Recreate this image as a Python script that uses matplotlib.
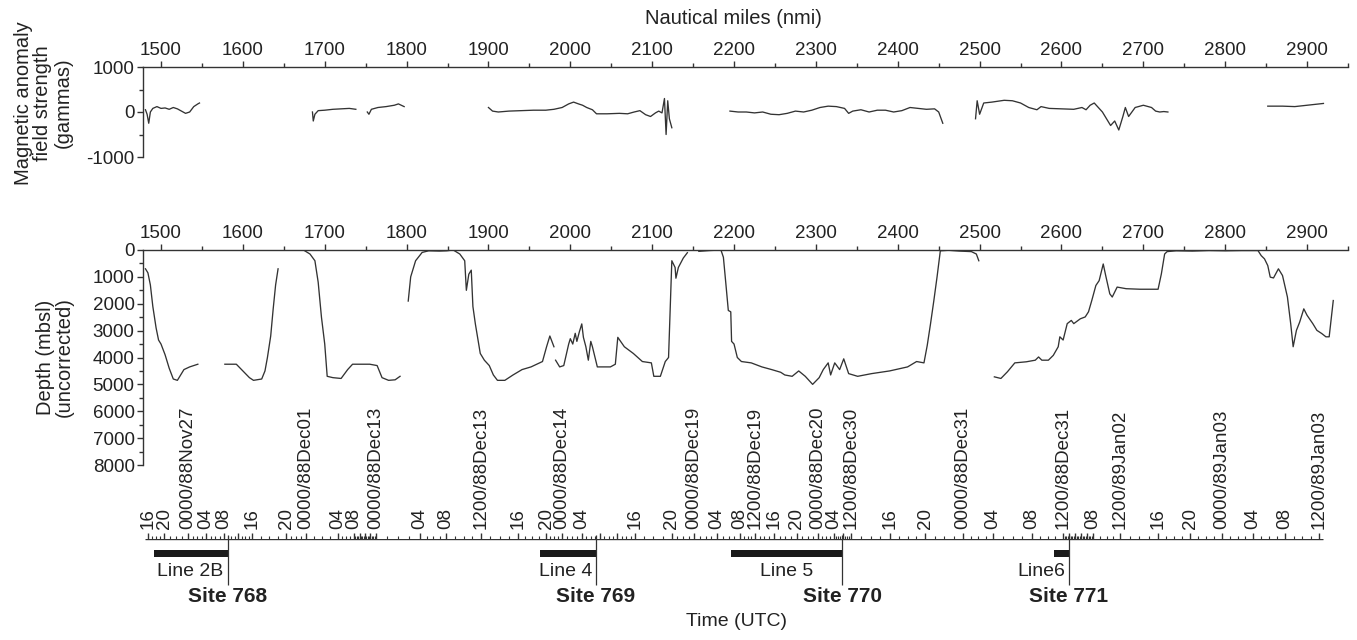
import numpy as np
import matplotlib
matplotlib.use("Agg")
import matplotlib.pyplot as plt
from matplotlib.ticker import MultipleLocator

plt.rcParams['font.family'] = ['Liberation Sans', 'DejaVu Sans']
plt.rcParams['axes.unicode_minus'] = False

# Champ magnetique (gammas) le long de la route, par troncon
mag_nmi_1 = [1481, 1483, 1485, 1487, 1490, 1495, 1500, 1505, 1510, 1515, 1520, 1525, 1530, 1535, 1540, 1545, 1547]
mag_gam_1 = [50, -50, -250, 0, 80, 120, 80, 90, 60, 100, 70, 20, -30, 0, 120, 180, 200]
mag_nmi_2 = [1685, 1686, 1688, 1692, 1700, 1710, 1720, 1730, 1738]
mag_gam_2 = [0, -200, -50, 30, 40, 60, 70, 80, 60]
mag_nmi_3 = [1752, 1754, 1757, 1765, 1775, 1785, 1790, 1797]
mag_gam_3 = [0, -50, 60, 100, 120, 150, 180, 120]
mag_nmi_4 = [1900, 1905, 1912, 1925, 1940, 1955, 1970, 1980, 1990, 1998, 2004, 2010, 2015, 2020, 2027, 2032,
             2045, 2060, 2070, 2078, 2085, 2092, 2098, 2104, 2108, 2112, 2115, 2117, 2119, 2121, 2124]
mag_gam_4 = [100, 20, 0, 20, 30, 40, 40, 60, 100, 180, 220, 180, 150, 100, 50, -40,
             -40, -30, -40, 0, 30, -60, -100, -20, 20, -20, 300, -500, 250, -150, -350]
mag_nmi_5 = [2195, 2205, 2215, 2225, 2235, 2245, 2255, 2265, 2275, 2285, 2295, 2305, 2315, 2325, 2335,
             2340, 2345, 2355, 2365, 2375, 2385, 2395, 2405, 2415, 2425, 2435, 2445, 2450, 2455]
mag_gam_5 = [20, 0, 0, -20, 0, -50, -60, -30, 20, 0, 40, 100, 130, 120, 80,
             -30, 20, 50, 0, 40, 40, 0, 30, 100, 80, 60, 70, 0, -250]
mag_nmi_6 = [2495, 2497, 2500, 2505, 2515, 2530, 2540, 2550, 2560, 2570, 2575, 2585, 2600, 2615, 2625, 2630,
             2635, 2640, 2645, 2650, 2655, 2660, 2665, 2670, 2675, 2678, 2682, 2690, 2700, 2710, 2715, 2720, 2725, 2730]
mag_gam_6 = [-150, 250, -50, 200, 220, 260, 250, 200, 100, 50, 120, 80, 70, 60, 100, 50,
             150, 200, 100, 0, -150, -300, -200, -400, -100, 100, -100, 100, 150, 100, 20, 0, 10, 0]
mag_nmi_7 = [2852, 2870, 2885, 2895, 2910, 2920]
mag_gam_7 = [130, 130, 120, 140, 170, 190]

# Profondeur (m) le long de la route, par troncon
dep_nmi_1 = [1481, 1484, 1487, 1490, 1494, 1497, 1500, 1505, 1510, 1515, 1520, 1524, 1528, 1535, 1545]
dep_m_1 = [700, 850, 1300, 2100, 2900, 3350, 3500, 3900, 4400, 4800, 4850, 4650, 4450, 4350, 4250]
dep_nmi_2 = [1578, 1592, 1600, 1608, 1613, 1623, 1627, 1630, 1634, 1637, 1640, 1643]
dep_m_2 = [4250, 4250, 4500, 4750, 4850, 4800, 4500, 4000, 3200, 2200, 1300, 700]
dep_nmi_3 = [1674, 1682, 1688, 1692, 1696, 1700, 1703, 1710, 1720, 1728, 1734, 1755, 1764, 1770, 1778, 1786, 1792]
dep_m_3 = [0, 150, 400, 1200, 2500, 3500, 4700, 4750, 4780, 4450, 4250, 4250, 4300, 4750, 4850, 4830, 4700]
dep_nmi_4 = [1802, 1805, 1811, 1819, 1827, 1840, 1849, 1857, 1865, 1871, 1873, 1876, 1879, 1881,
             1884, 1890, 1895, 1901, 1906, 1911, 1920, 1930, 1941, 1952, 1966, 1971, 1975, 1980]
dep_m_4 = [1900, 1000, 400, 90, 30, 40, 30, 0, 150, 400, 1500, 900, 750, 2100,
           2750, 3850, 4100, 4300, 4650, 4850, 4850, 4650, 4450, 4350, 4150, 3600, 3200, 3600]
dep_nmi_5 = [1982, 1987, 1992, 1998, 2000, 2003, 2006, 2008, 2011, 2014, 2016, 2019, 2022, 2025, 2027, 2033, 2049,
             2055, 2058, 2066, 2077, 2088, 2099, 2102, 2110, 2116, 2120, 2124, 2128, 2129, 2132, 2138, 2143]
dep_m_5 = [4100, 4350, 4300, 3500, 3300, 3500, 3100, 3400, 3050, 2750, 3250, 3600, 4100, 3400, 3600, 4350, 4350,
           4250, 3250, 3600, 3850, 4150, 4200, 4700, 4700, 4150, 4000, 400, 650, 1050, 650, 300, 100]
dep_nmi_6 = [2157, 2170, 2184, 2187, 2190, 2193, 2196, 2197, 2200, 2204, 2209, 2221, 2234, 2246, 2257,
             2262, 2271, 2279, 2287, 2296, 2304, 2309, 2315, 2318, 2323, 2329, 2334, 2340, 2351, 2368,
             2390, 2412, 2423, 2432, 2436, 2440, 2444, 2448, 2452, 2462, 2475, 2490, 2496, 2499]
dep_m_6 = [50, 20, 0, 270, 1250, 2250, 2300, 3400, 3500, 4000, 4150, 4200, 4350, 4450, 4550,
           4650, 4700, 4500, 4700, 5000, 4750, 4450, 4200, 4650, 4200, 4450, 4050, 4600, 4700, 4600,
           4500, 4350, 4150, 4200, 3550, 2750, 1900, 1000, 30, 10, 40, 60, 150, 400]
dep_nmi_7 = [2518, 2526, 2534, 2543, 2557, 2568, 2572, 2576, 2584, 2590, 2596, 2598, 2602, 2607, 2612,
             2615, 2623, 2629, 2633, 2637, 2642, 2646, 2651, 2654, 2659, 2662, 2668, 2679, 2696, 2718,
             2722, 2726, 2729, 2740, 2760, 2780, 2800, 2820, 2840, 2844, 2848, 2852, 2855, 2859, 2865,
             2870, 2876, 2880, 2883, 2887, 2891, 2896, 2900, 2907, 2912, 2918, 2923, 2927, 2932]
dep_m_7 = [4720, 4780, 4530, 4200, 4160, 4100, 3980, 4100, 4100, 3920, 3600, 3230, 3350, 2740, 2620,
           2740, 2560, 2490, 2300, 1880, 1320, 1140, 520, 950, 1630, 1750, 1380, 1440, 1460, 1460,
           890, 150, 60, 30, 40, 20, 30, 20, 20, 210, 330, 580, 1010, 1040, 700,
           950, 1750, 2740, 3600, 2990, 2680, 2190, 2430, 2740, 2990, 3110, 3230, 3230, 1880]

mag_troncons = [(mag_nmi_1, mag_gam_1), (mag_nmi_2, mag_gam_2), (mag_nmi_3, mag_gam_3), (mag_nmi_4, mag_gam_4),
                (mag_nmi_5, mag_gam_5), (mag_nmi_6, mag_gam_6), (mag_nmi_7, mag_gam_7)]
dep_troncons = [(dep_nmi_1, dep_m_1), (dep_nmi_2, dep_m_2), (dep_nmi_3, dep_m_3), (dep_nmi_4, dep_m_4),
                (dep_nmi_5, dep_m_5), (dep_nmi_6, dep_m_6), (dep_nmi_7, dep_m_7)]

# Echelle de temps : position (nmi) de chaque etiquette
temps_labels = ['16', '20', '0000/88Nov27', '04', '08', '16', '20', '0000/88Dec01', '04', '08',
                '0000/88Dec13', '04', '08', '1200/88Dec13', '16', '20', '0000/88Dec14', '04', '16', '20',
                '0000/88Dec19', '04', '08', '1200/88Dec19', '16', '20', '0000/88Dec20', '04', '1200/88Dec30',
                '16', '20', '0000/88Dec31', '04', '08', '1200/88Dec31', '08', '1200/89Jan02', '16', '20',
                '0000/89Jan03', '04', '08', '1200/89Jan03']
temps_nmi = [1484.2, 1503.7, 1533.0, 1555.0, 1577.0, 1611.2, 1652.7, 1677.1, 1716.2, 1735.8,
             1762.6, 1816.4, 1848.2, 1890.9, 1936.1, 1970.3, 1989.9, 2014.3, 2079.0, 2124.2,
             2151.1, 2179.2, 2207.3, 2225.6, 2248.8, 2276.9, 2302.6, 2322.1, 2342.9,
             2390.5, 2433.3, 2479.7, 2516.4, 2564.0, 2601.9, 2638.5, 2671.5, 2717.9, 2757.0,
             2796.1, 2834.0, 2873.1, 2914.6]

# Lignes sismiques et sites
lignes = ['Line 2B', 'Line 4', 'Line 5', 'Line6']
lignes_debut = [1491.4, 1963.0, 2196.3, 2590.9]
lignes_fin = [1581.8, 2031.4, 2331.9, 2609.2]
lignes_texte = [1575.7, 2026.5, 2296.5, 2604.3]
sites = ['Site 768', 'Site 769', 'Site 770', 'Site 771']

XMIN, XMAX = 1478, 2950
W, H = 1357, 640
GRIS = '#333333'
TEXTE = '#222222'


def boite(gauche, haut, droite, bas):
    # rectangle en pixels -> fraction de figure
    return [gauche / W, 1 - bas / H, (droite - gauche) / W, (bas - haut) / H]


fig = plt.figure(figsize=(W / 100, H / 100), dpi=100)

# --- Anomalie magnetique ---
ax1 = fig.add_axes(boite(143, 67, 1348, 157))
for x, y in mag_troncons:
    ax1.plot(x, y, color=GRIS, lw=0.95)
ax1.set_xlim(XMIN, XMAX)
ax1.set_ylim(-1000, 1000)

# --- Profondeur ---
ax2 = fig.add_axes(boite(143, 250, 1348, 465))
for x, y in dep_troncons:
    ax2.plot(x, y, color=GRIS, lw=0.95)
ax2.set_xlim(XMIN, XMAX)
ax2.set_ylim(8000, 0)

for ax in (ax1, ax2):
    ax.spines['right'].set_visible(False)
    ax.spines['bottom'].set_visible(False)
    for s in ('top', 'left'):
        ax.spines[s].set_linewidth(1.0)
        ax.spines[s].set_color(GRIS)
    ax.xaxis.tick_top()
    ax.set_xticks(range(1500, 3000, 100))
    ax.xaxis.set_minor_locator(MultipleLocator(50))
    ax.tick_params(which='both', color=GRIS, labelcolor=TEXTE, labelsize=13.5, width=1.0)
    ax.tick_params(which='major', length=4, pad=2)
    ax.tick_params(which='minor', length=3)
    ax.patch.set_alpha(0)

ax1.set_yticks([-1000, 0, 1000])
ax1.yaxis.set_minor_locator(MultipleLocator(500))
ax2.set_yticks(range(0, 9000, 1000))
ax2.yaxis.set_minor_locator(MultipleLocator(500))

fig.text(733 / W, 1 - 18 / H, 'Nautical miles (nmi)', ha='center', va='center',
         fontsize=14.5, color=TEXTE)
fig.text(43 / W, 1 - 103 / H, 'Magnetic anomaly\nfield strength\n(gammas)', rotation=90,
         ha='center', va='center', fontsize=14.5, linespacing=1.05, color=TEXTE)
fig.text(55 / W, 1 - 357 / H, 'Depth (mbsl)\n(uncorrected)', rotation=90,
         ha='center', va='center', fontsize=14.5, linespacing=1.0, color=TEXTE)

# --- Echelle de temps (UTC) ---
ax3 = fig.add_axes(boite(143, 539, 1348, 637))
ax3.set_xlim(XMIN, XMAX)
ax3.set_ylim(98, 0)
for s in ax3.spines.values():
    s.set_visible(False)
ax3.patch.set_alpha(0)
ax3.set_yticks([])
ax3.hlines(0, 1480.4, 2919.5, color=GRIS, lw=1.0)


def heure(lab):
    return int(lab[:2])


maj_pos, maj_lab, min_pos = [], [], []
for i, lab in enumerate(temps_labels):
    maj_pos.append(temps_nmi[i])
    maj_lab.append(lab)
    if i + 1 < len(temps_labels):
        h0, h1 = heure(lab), heure(temps_labels[i + 1])
        g = (h1 - h0) % 24 or 24
        for k in range(1, g):
            p = temps_nmi[i] + (temps_nmi[i + 1] - temps_nmi[i]) * k / g
            if (h0 + k) % 4 == 0:
                maj_pos.append(p)
                maj_lab.append('')
            else:
                min_pos.append(p)

ax3.xaxis.tick_top()
ax3.set_xticks(maj_pos, maj_lab, rotation=90, fontsize=13.5, color=TEXTE)
ax3.set_xticks(min_pos, minor=True)
ax3.tick_params(which='major', length=4, width=1.0, color=GRIS, pad=3.5)
ax3.tick_params(which='minor', length=2, width=0.8, color=GRIS)

for nom, a, b, xt, site in zip(lignes, lignes_debut, lignes_fin, lignes_texte, sites):
    ax3.barh(14.5, b - a, left=a, height=7.5, color='#1a1a1a')
    ax3.vlines(b, -4, 46, color=GRIS, lw=0.9, clip_on=False)
    ax3.text(xt, 33, nom, ha='right', va='center', fontsize=14, color=TEXTE)
    ax3.text(b, 58, site, ha='center', va='center', fontsize=15, fontweight='bold', color=TEXTE)

fig.text(736 / W, 1 - 622 / H, 'Time (UTC)', ha='center', va='center', fontsize=14, color=TEXTE)

fig.savefig('out.png', dpi=100, facecolor='white')
